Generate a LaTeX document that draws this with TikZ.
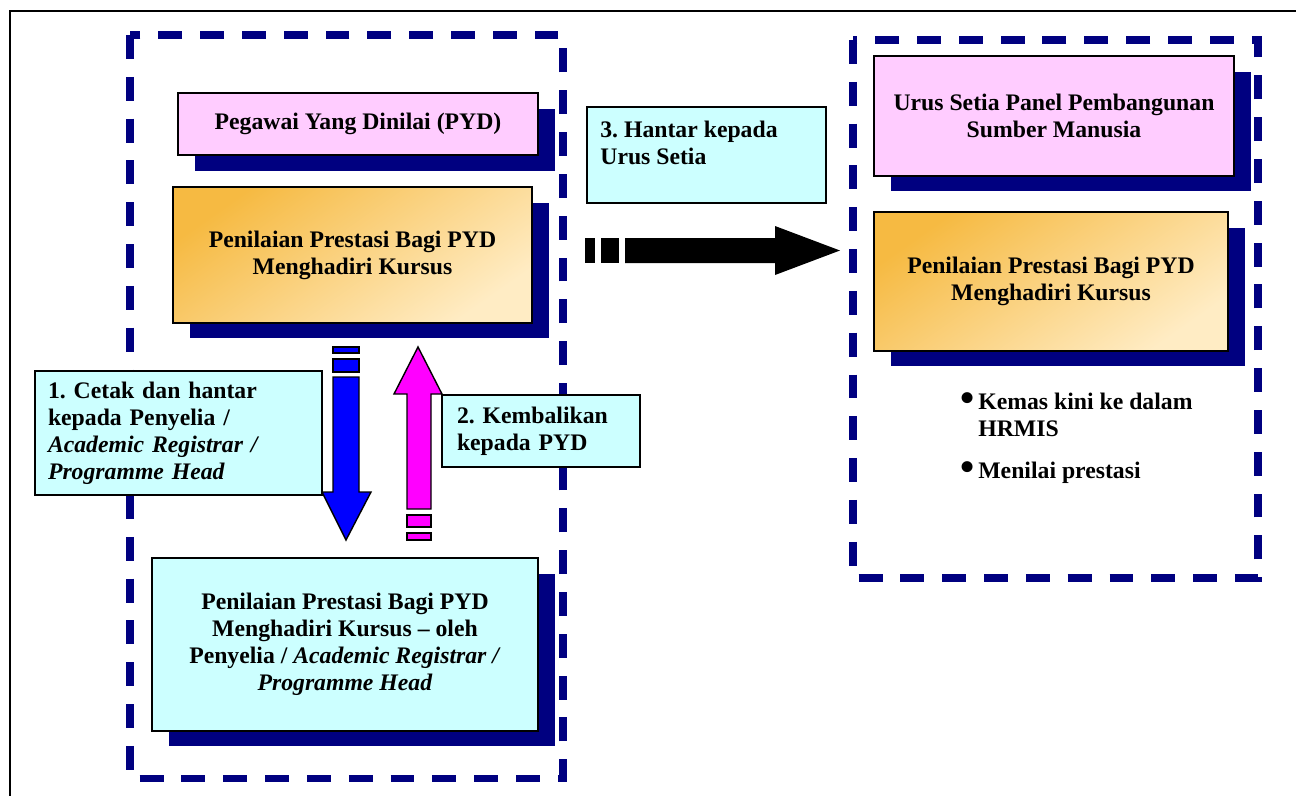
\documentclass[tikz,border=0pt]{standalone}
\usepackage{fontspec}
\setmainfont{Liberation Serif}
\usetikzlibrary{shadows}

\definecolor{navyc}{RGB}{0,0,128}
\definecolor{pinkc}{RGB}{255,204,255}
\definecolor{cyanc}{RGB}{204,255,255}
\definecolor{orangea}{RGB}{246,186,66}
\definecolor{orangeb}{RGB}{255,236,196}
\definecolor{arrowblue}{RGB}{0,0,255}
\definecolor{arrowpink}{RGB}{255,0,255}

\newcommand{\bigdot}{\llap{\smash{\raisebox{-1pt}{\fontsize{23}{23}\selectfont\textbullet}}\hspace{2pt}}}

\begin{document}
\frenchspacing
\begin{tikzpicture}[x=0.02cm, y=-0.02cm, font=\fontsize{13.5}{15.3}\selectfont\bfseries]
\tikzstyle{dashframe} = [
  draw=navyc,
  line width=4pt,
  dash pattern=on 13.6pt off 10.2pt
]
\tikzstyle{boxstyle} = [
  draw=black,
  line width=0.8pt,
  inner sep=0pt,
  outer sep=0pt,
  align=center
]
\tikzstyle{navyshadow} = [
  drop shadow={shadow xshift=0.34cm, shadow yshift=-0.31cm, fill=navyc, opacity=1}
]
\tikzstyle{pinkbox} = [boxstyle, navyshadow, fill=pinkc]
\tikzstyle{orangebox} = [boxstyle, navyshadow, top color=orangea, bottom color=orangeb, shading angle=35]
\tikzstyle{cyanbox} = [boxstyle, fill=cyanc]
\tikzstyle{blockarrow} = [draw=black, line width=0.8pt]
\tikzstyle{bulletnote} = [anchor=north west, align=left, inner sep=0pt]

\useasboundingbox (0,0) rectangle (1296,796);

% page frame
\draw [line width=1.1pt] (1296,11) -- (10,11) -- (10,796);

% the two groups
\draw [dashframe] (130,35) rectangle (563,778);
\draw [dashframe] (853,40) rectangle (1258,578);

% left group
\node [pinkbox, minimum width=7.2cm, minimum height=1.24cm] (pyd) at (358,124) {Pegawai Yang Dinilai (PYD)};
\node [orangebox, minimum width=7.18cm, minimum height=2.72cm] (nilai1) at (352.5,255) {Penilaian Prestasi Bagi PYD\\Menghadiri Kursus};
\node [cyanbox, navyshadow, minimum width=7.72cm, minimum height=3.46cm] (nilai3) at (345,644.5)
  {Penilaian Prestasi Bagi PYD\\Menghadiri Kursus -- oleh\\Penyelia / \textit{Academic Registrar /}\\\textit{Programme Head}};

% right group
\node [pinkbox, minimum width=7.2cm, minimum height=2.4cm] (urus) at (1054,116) {Urus Setia Panel Pembangunan\\Sumber Manusia};
\node [orangebox, minimum width=7.08cm, minimum height=2.78cm] (nilai2) at (1051,281.5) {Penilaian Prestasi Bagi PYD\\Menghadiri Kursus};
\node [bulletnote] (kemas) at (978,393) {\bigdot Kemas kini ke dalam\\HRMIS};
\node [bulletnote] (menilai) at (978,462) {\bigdot Menilai prestasi};

% block arrows
\fill (625,238) -- (775,238) -- (775,226) -- (840,250.5) -- (775,275) -- (775,263) -- (625,263) -- cycle;
\fill (585,238) rectangle (595,263);
\fill (601,238) rectangle (619,263);

\filldraw [blockarrow, fill=arrowblue] (333,377) -- (359,377) -- (359,492) -- (371,492) -- (346,540) -- (322,492) -- (333,492) -- cycle;
\filldraw [blockarrow, fill=arrowblue] (333,347) rectangle (359,353);
\filldraw [blockarrow, fill=arrowblue] (333,359) rectangle (359,372);

\filldraw [blockarrow, fill=arrowpink] (407,509) -- (431,509) -- (431,394) -- (442,394) -- (418,347) -- (394,394) -- (407,394) -- cycle;
\filldraw [blockarrow, fill=arrowpink] (407,515) rectangle (431,527);
\filldraw [blockarrow, fill=arrowpink] (407,533) rectangle (431,540);

% step labels
\node [cyanbox, minimum width=4.78cm, minimum height=1.92cm] (hantar) at (706.5,155) {};
\node [anchor=north west, align=left, inner sep=0pt] (hantartext) at ([shift={(13,14)}]hantar.north west) {3. Hantar kepada\\Urus Setia};
\node [cyanbox, minimum width=5.74cm, minimum height=2.48cm, align=left, text width=5.22cm] (cetak) at (178.5,433)
  {1. Cetak dan hantar\\kepada Penyelia /\\\textit{Academic Registrar /}\\\textit{Programme Head}};
\node [cyanbox, minimum width=3.96cm, minimum height=1.44cm, align=left, text width=3.36cm] (kembali) at (541,431)
  {2. Kembalikan\\kepada PYD};

\end{tikzpicture}
\end{document}
